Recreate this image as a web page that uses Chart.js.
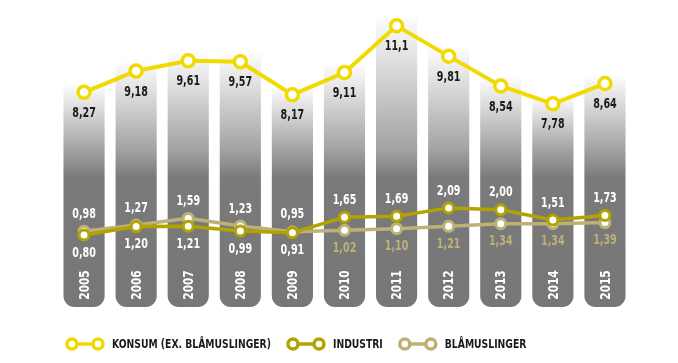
<!DOCTYPE html>
<html>
<head>
<meta charset="utf-8">
<script src="https://cdn.jsdelivr.net/npm/chart.js@4.4.1/dist/chart.umd.min.js"></script>
<style>
  html, body { margin: 0; padding: 0; background: #fff; }
  #wrap { width: 678px; height: 363px; }
</style>
</head>
<body>
<div id="wrap"><canvas id="chart"></canvas></div>
<script>
// data
const years = ['2005', '2006', '2007', '2008', '2009', '2010', '2011', '2012', '2013', '2014', '2015'];
const konsum = [8.27, 9.18, 9.61, 9.57, 8.17, 9.11, 11.1, 9.81, 8.54, 7.78, 8.64];
const industri = [0.80, 1.20, 1.21, 0.99, 0.91, 1.65, 1.69, 2.09, 2.00, 1.51, 1.73];
const blamuslinger = [0.98, 1.27, 1.59, 1.23, 0.95, 1.02, 1.10, 1.21, 1.34, 1.34, 1.39];
const seriesNames = ['KONSUM (EX. BLÅMUSLINGER)', 'INDUSTRI', 'BLÅMUSLINGER'];

const FONT = '"DejaVu Sans Condensed", "DejaVu Sans", sans-serif';
const YELLOW = '#f0da00';
const OLIVE = '#b2a300';
const KHAKI = '#bdb178';
const BAR_MIN = -0.87;

function fmt(v) {
  return v.toFixed(v >= 10 ? 1 : 2).replace('.', ',');
}

// narrow text: the original uses a condensed face we don't have
function narrowText(c, txt, x, y, sx) {
  c.save();
  c.translate(x, y);
  c.scale(sx, 1);
  c.fillText(txt, 0, 0);
  c.restore();
}

// gray column, fading to white at the top
function barFill(ctx) {
  const chart = ctx.chart;
  const area = chart.chartArea;
  if (!area || ctx.type !== 'data') return '#787878';
  const top = chart.scales.yb.getPixelForValue(konsum[ctx.dataIndex]);
  const bot = area.bottom;
  const h = bot - top;
  const at = y => Math.min(1, Math.max(0, (y - top) / h));
  const g = chart.ctx.createLinearGradient(0, top, 0, bot);
  g.addColorStop(0, '#ffffff');
  g.addColorStop(Math.max(at(150), 0.05), '#a2a2a2');
  g.addColorStop(Math.max(at(178), 0.1), '#7a7a7a');
  g.addColorStop(1, '#777777');
  return g;
}

const textPlugin = {
  id: 'texts',
  afterDatasetsDraw(chart) {
    const c = chart.ctx;
    const xs = chart.scales.x;
    c.save();
    c.textAlign = 'center';
    c.textBaseline = 'middle';

    // year labels inside the columns
    c.font = 'bold 14px ' + FONT;
    c.fillStyle = '#ffffff';
    years.forEach((yr, i) => {
      c.save();
      c.translate(xs.getPixelForValue(i), 285);
      c.rotate(-Math.PI / 2);
      narrowText(c, yr, 0, 1, 0.84);
      c.restore();
    });

    const mK = chart.getDatasetMeta(0).data;
    const mI = chart.getDatasetMeta(1).data;
    const mB = chart.getDatasetMeta(2).data;

    c.font = 'bold 14px ' + FONT;
    c.fillStyle = '#1a1a1a';
    konsum.forEach((v, i) => narrowText(c, fmt(v), mK[i].x, mK[i].y + 21, 0.76));

    industri.forEach((v, i) => {
      const up = v > blamuslinger[i];
      c.fillStyle = '#ffffff';
      narrowText(c, fmt(v), mI[i].x, mI[i].y + (up ? -17 : 18), 0.76);
    });
    blamuslinger.forEach((v, i) => {
      const up = v > industri[i];
      c.fillStyle = up ? '#ffffff' : KHAKI;
      narrowText(c, fmt(v), mB[i].x, mB[i].y + (up ? -17 : 18), 0.76);
    });
    c.restore();
  },
  afterDraw(chart) {
    const c = chart.ctx;
    const colors = [YELLOW, OLIVE, KHAKI];
    const y = 344;
    const sx = 0.79;
    let x = 65;
    c.save();
    c.font = 'bold 13px ' + FONT;
    c.textBaseline = 'middle';
    c.textAlign = 'left';
    seriesNames.forEach((name, i) => {
      c.strokeStyle = colors[i];
      c.lineWidth = 3.5;
      c.beginPath();
      c.moveTo(x + 7, y);
      c.lineTo(x + 33, y);
      c.stroke();
      [x + 7, x + 33].forEach(cx => {
        c.beginPath();
        c.arc(cx, y, 5, 0, Math.PI * 2);
        c.fillStyle = '#fff';
        c.fill();
        c.stroke();
      });
      c.fillStyle = '#1a1a1a';
      narrowText(c, name, x + 47, y + 1, sx);
      x += 47 + c.measureText(name).width * sx + 15;
    });
    c.restore();
  }
};

new Chart(document.getElementById('chart'), {
  data: {
    labels: years,
    datasets: [
      {
        type: 'line',
        label: seriesNames[0],
        data: konsum,
        yAxisID: 'y',
        borderColor: YELLOW,
        borderWidth: 4,
        pointRadius: 6,
        pointBorderWidth: 3.5,
        pointBackgroundColor: '#fff',
        pointBorderColor: YELLOW,
        tension: 0,
        clip: false,
        order: 0
      },
      {
        type: 'line',
        label: seriesNames[1],
        data: industri,
        yAxisID: 'y2',
        borderColor: OLIVE,
        borderWidth: 3.5,
        pointRadius: 5,
        pointBorderWidth: 3,
        pointBackgroundColor: '#fff',
        pointBorderColor: OLIVE,
        tension: 0,
        order: 1
      },
      {
        type: 'line',
        label: seriesNames[2],
        data: blamuslinger,
        yAxisID: 'y2',
        borderColor: KHAKI,
        borderWidth: 3.5,
        pointRadius: 5,
        pointBorderWidth: 3,
        pointBackgroundColor: '#fff',
        pointBorderColor: KHAKI,
        tension: 0,
        order: 2
      },
      {
        type: 'bar',
        label: 'columns',
        data: konsum,
        yAxisID: 'yb',
        base: BAR_MIN,
        backgroundColor: barFill,
        borderWidth: 0,
        borderSkipped: false,
        borderRadius: { topLeft: 0, topRight: 0, bottomLeft: 11, bottomRight: 11 },
        barPercentage: 0.79,
        categoryPercentage: 1,
        order: 10
      }
    ]
  },
  options: {
    responsive: true,
    maintainAspectRatio: false,
    animation: false,
    layout: { autoPadding: false, padding: { left: 58, right: 47, top: 0, bottom: 56 } },
    plugins: {
      legend: { display: false },
      tooltip: { enabled: false }
    },
    scales: {
      x: { display: false, offset: true, grid: { display: false } },
      y: { display: false, min: -0.87, max: 12.2 },
      y2: { display: false, min: -2.63, max: 11.99 },
      yb: { display: false, min: BAR_MIN, max: 11.67 }
    }
  },
  plugins: [textPlugin]
});
</script>
</body>
</html>
